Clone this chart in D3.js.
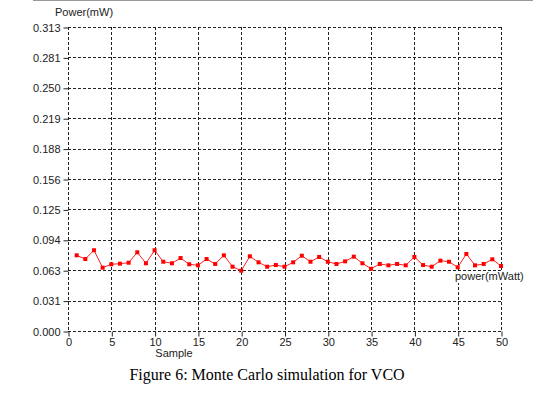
<!DOCTYPE html>
<html><head><meta charset="utf-8">
<script src="https://cdn.jsdelivr.net/npm/d3@7"></script>
<style>body{margin:0;background:#fff}svg{display:block}</style>
</head><body>
<svg id="c" width="533" height="395"></svg>
<script>
const samples = d3.range(1, 51);
const power = [0.0778,0.0740,0.0830,0.0651,0.0686,0.0692,0.0702,0.0809,0.0696,0.0830,
0.0712,0.0696,0.0750,0.0686,0.0675,0.0740,0.0689,0.0778,0.0661,0.0620,
0.0768,0.0706,0.0661,0.0678,0.0661,0.0706,0.0774,0.0712,0.0761,0.0712,
0.0689,0.0716,0.0764,0.0696,0.0640,0.0689,0.0675,0.0689,0.0675,0.0761,
0.0678,0.0661,0.0723,0.0712,0.0655,0.0792,0.0675,0.0689,0.0737,0.0668];
const yTickValues = [0,0.03125,0.0625,0.09375,0.125,0.15625,0.1875,0.21875,0.25,0.28125,0.3125];
const yTickLabels = ["0.000","0.031","0.063","0.094","0.125","0.156","0.188","0.219","0.250","0.281","0.313"];
const xTickValues = [0,5,10,15,20,25,30,35,40,45,50];
const seriesName = "power(mWatt)";
const yTitle = "Power(mW)";
const xTitle = "Sample";
const caption = "Figure 6: Monte Carlo simulation for VCO";

const svg = d3.select("#c");
const L = 68, R = 501, T = 27, B = 331;
const x = d3.scaleLinear().domain([0,50]).range([L,R]);
const y = d3.scaleLinear().domain([0,0.3125]).range([B,T]);
const font = "Liberation Sans, Arial, sans-serif";

svg.append("line").attr("x1",33).attr("x2",533).attr("y1",0.5).attr("y2",0.5)
  .attr("stroke","#999").attr("stroke-width",1);

// grid
const g = svg.append("g");
g.selectAll("line.h").data(yTickValues).join("line")
  .attr("x1",L).attr("x2",R).attr("y1",d=>Math.round(y(d))+0.5).attr("y2",d=>Math.round(y(d))+0.5)
  .attr("stroke","#222").attr("stroke-dasharray","3,2").attr("stroke-width",1);
g.selectAll("line.v").data(xTickValues).join("line")
  .attr("y1",T).attr("y2",B).attr("x1",d=>Math.round(x(d))+0.5).attr("x2",d=>Math.round(x(d))+0.5)
  .attr("stroke","#222").attr("stroke-dasharray","3,2").attr("stroke-width",1);

// axes
const yAxis = d3.axisLeft(y).tickValues(yTickValues).tickFormat((d,i)=>yTickLabels[i]).tickSize(5).tickPadding(3);
const ya = svg.append("g").attr("transform",`translate(${L+0.5},0.5)`).call(yAxis);
ya.select(".domain").remove();
ya.selectAll("text").attr("font-family",font).attr("font-size",11).attr("fill","#222").attr("x",-8);
ya.selectAll("line").attr("stroke","#222");

const xAxis = d3.axisBottom(x).tickValues(xTickValues).tickFormat(d3.format("d")).tickSize(5).tickPadding(2);
const xa = svg.append("g").attr("transform",`translate(0.5,${B+0.5})`).call(xAxis);
xa.select(".domain").remove();
xa.selectAll("text").attr("font-family",font).attr("font-size",11).attr("fill","#222");
xa.selectAll("line").attr("stroke","#222");

// titles
svg.append("text").attr("x",55).attr("y",16).text(yTitle)
  .attr("font-family",font).attr("font-size",11).attr("fill","#222");
svg.append("text").attr("x",174).attr("y",357).attr("text-anchor","middle").text(xTitle)
  .attr("font-family",font).attr("font-size",11).attr("fill","#222");

// series label (with white background over grid)
const lbl = svg.append("g");
const lt = lbl.append("text").attr("x",455).attr("y",280).text(seriesName)
  .attr("font-family",font).attr("font-size",11).attr("fill","#222");
const bb = lt.node().getBBox();
lbl.insert("rect","text").attr("x",bb.x-1).attr("y",bb.y+1).attr("width",bb.width+2).attr("height",bb.height)
  .attr("fill","#fff");

// series
const line = d3.line().x((d,i)=>x(samples[i])).y(d=>y(d));
svg.append("path").datum(power).attr("d",line).attr("fill","none")
  .attr("stroke","#ff2020").attr("stroke-width",1);
svg.selectAll("rect.m").data(power).join("rect")
  .attr("x",(d,i)=>x(samples[i])-2).attr("y",d=>y(d)-2).attr("width",4).attr("height",4)
  .attr("fill","#ff0000");

svg.append("text").attr("x",267).attr("y",380).attr("text-anchor","middle").text(caption)
  .attr("font-family","Liberation Serif, Times New Roman, serif").attr("font-size",16).attr("fill","#000");
</script>
</body></html>
